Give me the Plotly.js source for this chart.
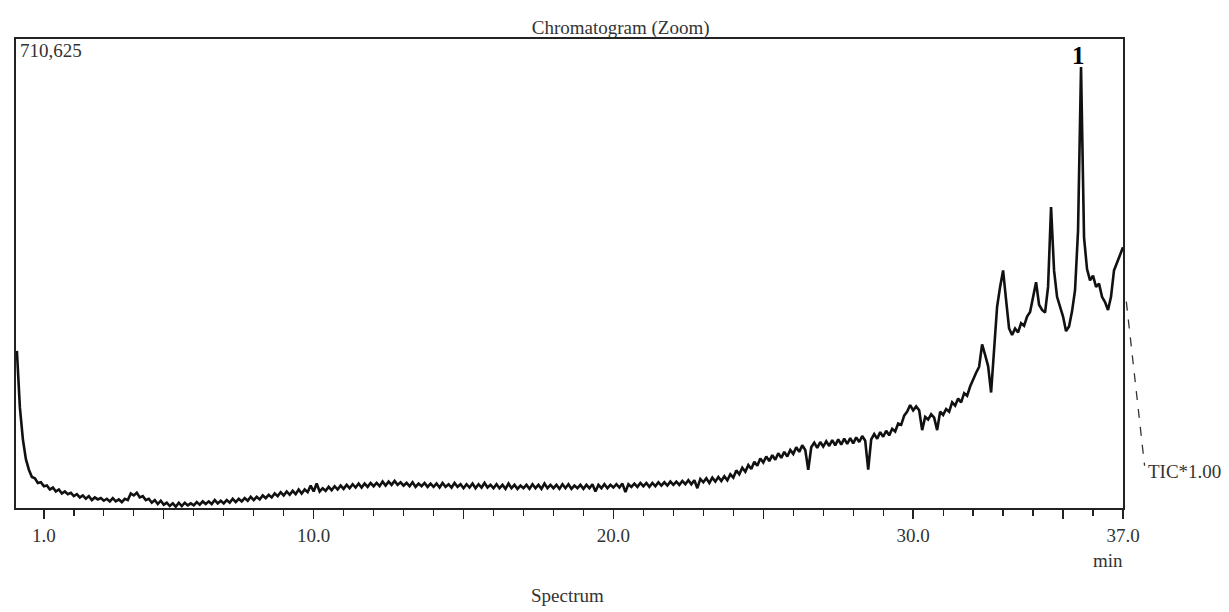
<!DOCTYPE html>
<html>
<head>
<meta charset="utf-8">
<script src="https://cdn.plot.ly/plotly-3.0.1.min.js"></script>
<style>
  html, body { margin: 0; padding: 0; background: #fff; }
  #chart { width: 1229px; height: 612px; }
</style>
</head>
<body>
<div id="chart"></div>
<script>
// Scan grid (retention time, min)
const scanStart = 0.1;
const scanInterval = 0.1;

// TIC intensity (counts x 1000), one value per scan
const intensity = [
  // 0.1 - 1.0
  238,152,104,74,58,47,45,38,39,33,
  // 1.1 - 2.0
  34,28,31,25,28,22,25,21,23,18,
  // 2.1 - 3.0
  21,16,19,14,18,12,16,13,15,11,
  // 3.1 - 4.0
  14,10,15,10,13,9,14,12,22,19,
  // 4.1 - 5.0
  23,16,18,12,14,8,12,6,11,5,
  // 5.1 - 6.0
  8,3,7,2,8,3,8,4,7,4,
  // 6.1 - 7.0
  9,5,10,6,10,6,12,7,11,7,
  // 7.1 - 8.0
  12,8,14,9,14,10,15,11,17,12,
  // 8.1 - 9.0
  17,13,19,15,20,16,22,18,24,19,
  // 9.1 - 10.0
  25,20,26,21,28,22,28,24,34,25,
  // 10.1 - 11.0
  37,25,30,26,32,27,33,28,34,29,
  // 11.1 - 12.0
  35,30,36,31,37,31,37,32,38,33,
  // 12.1 - 13.0
  38,33,40,34,40,35,41,35,39,34,
  // 13.1 - 14.0
  38,33,39,32,37,33,38,32,37,32,
  // 14.1 - 15.0
  37,31,38,32,36,31,38,32,36,30,
  // 15.1 - 16.0
  36,31,37,30,36,31,38,31,35,30,
  // 16.1 - 17.0
  36,30,35,29,37,30,35,29,34,30,
  // 17.1 - 18.0
  35,29,36,30,35,29,37,30,35,30,
  // 18.1 - 19.0
  35,29,36,30,36,29,34,30,35,29,
  // 19.1 - 20.0
  35,30,36,25,35,30,36,30,35,31,
  // 20.1 - 21.0
  36,31,37,24,36,32,37,32,38,33,
  // 21.1 - 22.0
  38,32,38,33,39,34,39,34,40,35,
  // 22.1 - 23.0
  40,35,41,36,42,36,42,30,44,39,
  // 23.1 - 24.0
  45,38,46,40,47,41,48,42,51,46,
  // 24.1 - 25.0
  57,51,61,55,65,59,70,64,75,69,
  // 25.1 - 26.0
  78,71,80,73,83,76,85,78,88,82,
  // 26.1 - 27.0
  92,85,95,88,58,92,99,91,100,93,
  // 27.1 - 28.0
  101,94,103,95,104,96,105,97,106,98,
  // 28.1 - 29.0
  107,100,109,102,58,104,112,105,115,108,
  // 29.1 - 30.0
  117,110,120,116,128,126,140,146,156,148,
  // 30.1 - 31.0
  154,148,118,138,134,142,137,118,146,141,
  // 31.1 - 32.0
  150,146,160,155,166,160,174,170,184,196,
  // 32.1 - 33.0
  205,214,248,232,215,175,236,305,335,360,
  // 33.1 - 34.0
  315,272,262,272,266,280,276,290,297,318,
  // 34.1 - 35.0
  342,308,300,296,335,456,360,320,305,290,
  // 35.1 - 36.0
  268,275,298,330,420,668,410,362,345,352,
  // 36.1 - 37.0
  335,340,320,312,300,320,360,372,385,395
];

const fullScale = 710.625;          // counts x 1000 at top of frame
const xTickVals = [1, 5, 10, 15, 20, 25, 30, 35, 37];
const xTickText = ['1.0', '', '10.0', '', '20.0', '', '30.0', '', '37.0'];
const peakLabels = [{ time: 35.6, value: 668, text: '1' }];

const times = intensity.map((_, i) => +(scanStart + i * scanInterval).toFixed(2));

const serif = 'Liberation Serif, Times New Roman, serif';

const trace = {
  x: times,
  y: intensity,
  type: 'scatter',
  mode: 'lines',
  line: { color: '#111', width: 2.6 },
  hoverinfo: 'x+y'
};

const annotations = [
  { xref: 'paper', yref: 'paper', x: 0.002, y: 1.002, xanchor: 'left', yanchor: 'top',
    text: '710,625', showarrow: false, font: { family: serif, size: 19, color: '#333' } },
  { xref: 'paper', yref: 'paper', x: 1.0205, y: 0.078, xanchor: 'left', yanchor: 'middle',
    text: 'TIC*1.00', showarrow: false, font: { family: serif, size: 19, color: '#333' } },
  { xref: 'x', yref: 'paper', x: 36.5, y: -0.085, xanchor: 'center', yanchor: 'top',
    text: 'min', showarrow: false, font: { family: serif, size: 19, color: '#333' } },
  { xref: 'paper', yref: 'paper', x: 0.498, y: -0.16, xanchor: 'center', yanchor: 'top',
    text: 'Spectrum', showarrow: false, font: { family: serif, size: 19, color: '#333' } }
];
peakLabels.forEach(p => annotations.push({
  xref: 'x', yref: 'y', x: p.time, y: p.value, xanchor: 'center', yanchor: 'bottom',
  yshift: -4, xshift: -3, text: '<b>' + p.text + '</b>', showarrow: false,
  font: { family: serif, size: 25, color: '#000' }
}));

const layout = {
  width: 1229,
  height: 612,
  margin: { l: 16, r: 106, t: 39, b: 104 },
  paper_bgcolor: '#fff',
  plot_bgcolor: '#fff',
  showlegend: false,
  title: {
    text: 'Chromatogram (Zoom)',
    font: { family: serif, size: 19, color: '#333' },
    x: 0.505, xanchor: 'center', y: 0.956, yanchor: 'middle'
  },
  xaxis: {
    range: [0.07, 37.0],
    showgrid: false,
    zeroline: false,
    showline: true,
    mirror: true,
    linecolor: '#222',
    linewidth: 1.8,
    ticks: 'outside',
    ticklen: 9,
    tickwidth: 1.4,
    tickcolor: '#222',
    tickmode: 'array',
    tickvals: xTickVals,
    ticktext: xTickText,
    tickfont: { family: serif, size: 19, color: '#333' },
    minor: { tick0: 0, dtick: 1, ticks: 'outside', ticklen: 6, tickwidth: 1.3, tickcolor: '#222' }
  },
  yaxis: {
    range: [0, fullScale],
    showgrid: false,
    zeroline: false,
    showline: true,
    mirror: true,
    linecolor: '#222',
    linewidth: 1.8,
    showticklabels: false,
    ticks: ''
  },
  annotations: annotations,
  shapes: [
    { type: 'line', xref: 'paper', yref: 'paper', x0: 1.003, y0: 0.44, x1: 1.0195, y1: 0.09,
      line: { color: '#333', width: 1.3, dash: 'dash' } }
  ]
};

Plotly.newPlot('chart', [trace], layout, { displayModeBar: false, staticPlot: true });
</script>
</body>
</html>
